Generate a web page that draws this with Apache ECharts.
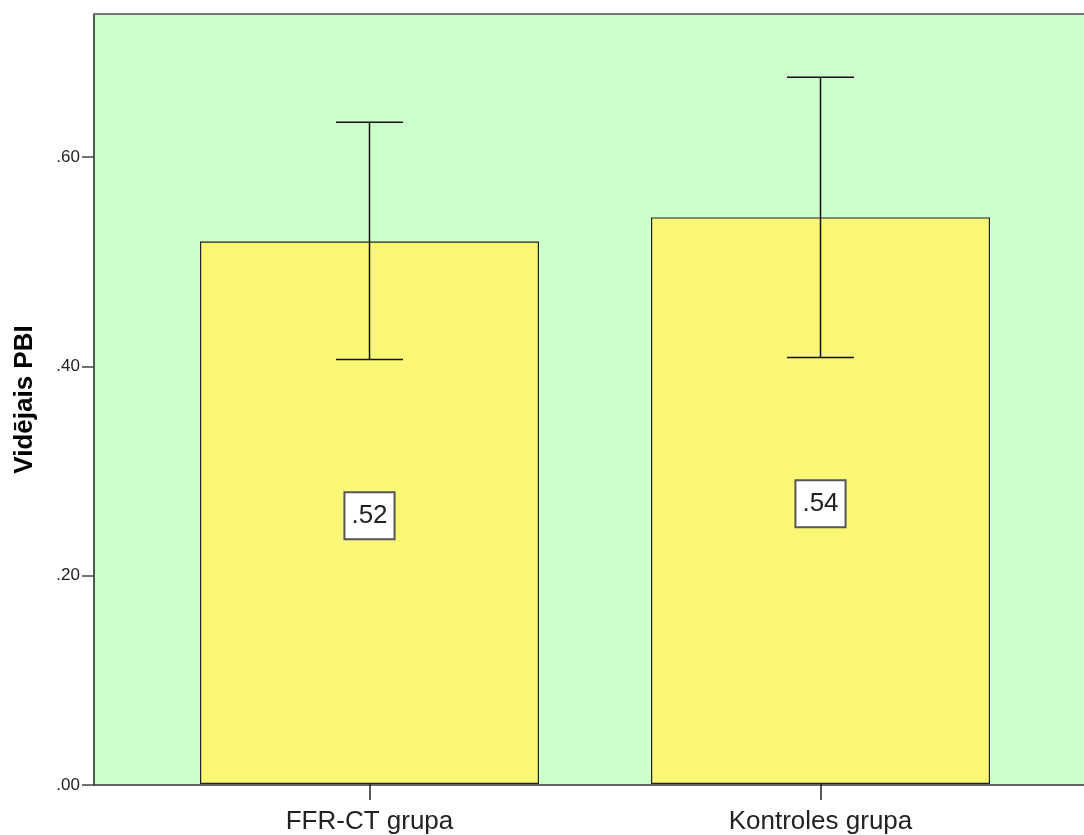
<!DOCTYPE html>
<html>
<head>
<meta charset="utf-8">
<script src="https://cdn.jsdelivr.net/npm/echarts@6/dist/echarts.min.js"></script>
<style>html,body{margin:0;padding:0;background:#fff;}#c{width:1084px;height:835px;}</style>
</head>
<body>
<div id="c"></div>
<script>
const categories = ['FFR-CT grupa', 'Kontroles grupa'];
const means = [0.519, 0.542];
const upper = [0.633, 0.676];
const lower = [0.406, 0.408];
const yTicks = [0, 0.2, 0.4, 0.6];
const yMax = 0.7366;

const fmt = v => v.toFixed(2).replace(/^0/, '');
const FONT = '"Liberation Sans", Arial, sans-serif';

const chart = echarts.init(document.getElementById('c'));
chart.setOption({
  animation: false,
  backgroundColor: '#ffffff',
  grid: [
    { left: 94, right: 0, top: 14, bottom: 50, show: true, backgroundColor: '#ccffcc', borderWidth: 0 },
    { left: 144, right: 38, top: 14, bottom: 50 }
  ],
  xAxis: [
    { type: 'value', gridIndex: 0, min: 0, max: 1, axisLine: { show: true, onZero: false, lineStyle: { color: '#333', width: 1.5 } }, axisTick: { show: false }, axisLabel: { show: false }, splitLine: { show: false } },
    { type: 'category', gridIndex: 1, data: categories, axisLine: { show: false }, axisTick: { show: true, alignWithLabel: true, length: 16, lineStyle: { color: '#222', width: 1.5 } }, axisLabel: { fontSize: 26, color: '#222', fontFamily: FONT, margin: 25 }, splitLine: { show: false } },
    { type: 'value', gridIndex: 0, position: 'top', min: 0, max: 1, axisLine: { show: true, onZero: false, lineStyle: { color: '#777', width: 2 } }, axisTick: { show: false }, axisLabel: { show: false }, splitLine: { show: false } }
  ],
  yAxis: [
    { type: 'value', gridIndex: 0, min: 0, max: yMax,
      name: 'Vidējais PBI', nameLocation: 'middle', nameGap: 56,
      nameTextStyle: { fontSize: 26, fontWeight: 'bold', color: '#000', fontFamily: FONT },
      axisLine: { show: true, lineStyle: { color: '#222', width: 1.5 } },
      axisTick: { show: true, length: 12, customValues: yTicks, lineStyle: { color: '#444', width: 1.5 } },
      axisLabel: { fontSize: 17, color: '#222', fontFamily: FONT, margin: 14, customValues: yTicks, formatter: fmt },
      splitLine: { show: false } },
    { type: 'value', gridIndex: 1, min: 0, max: yMax, show: false, splitLine: { show: false } }
  ],
  series: [
    { type: 'bar', xAxisIndex: 1, yAxisIndex: 1, data: means, barWidth: 339,
      itemStyle: { color: '#fbf776', borderColor: '#222', borderWidth: 1.2 },
      label: { show: true, position: 'inside', offset: [0, 3], formatter: p => fmt(p.value), fontSize: 26, color: '#222', fontFamily: FONT,
        backgroundColor: '#fff', borderColor: '#555', borderWidth: 2, padding: [10, 6, 9, 6], lineHeight: 26 } },
    { type: 'custom', xAxisIndex: 1, yAxisIndex: 1, z: 10,
      data: categories.map((c, i) => [i, lower[i], upper[i]]),
      renderItem: (params, api) => {
        const x = api.coord([api.value(0), 0])[0];
        const lo = api.coord([api.value(0), api.value(1)])[1];
        const hi = api.coord([api.value(0), api.value(2)])[1];
        const hw = 33.5;
        const st = { stroke: '#111', lineWidth: 1.5 };
        return { type: 'group', children: [
          { type: 'line', shape: { x1: x, y1: lo, x2: x, y2: hi }, style: st },
          { type: 'line', shape: { x1: x - hw, y1: hi, x2: x + hw, y2: hi }, style: st },
          { type: 'line', shape: { x1: x - hw, y1: lo, x2: x + hw, y2: lo }, style: st }
        ] };
      } }
  ]
});
</script>
</body>
</html>
